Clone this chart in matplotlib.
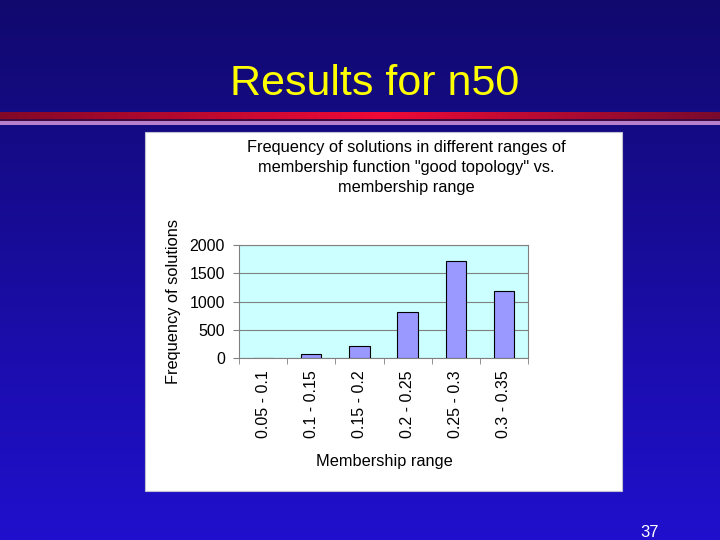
import numpy as np
import matplotlib
matplotlib.use("Agg")
import matplotlib.pyplot as plt
from matplotlib.patches import Rectangle

# dados
faixas = ["0.05 - 0.1", "0.1 - 0.15", "0.15 - 0.2", "0.2 - 0.25", "0.25 - 0.3", "0.3 - 0.35"]
frequencia = [0, 70, 205, 810, 1720, 1190]
marcas_y = [0, 500, 1000, 1500, 2000]

titulo_slide = "Results for n50"
titulo_grafico = ('Frequency of solutions in different ranges of\n'
                  'membership function "good topology" vs.\n'
                  'membership range')
numero_pagina = "37"

plt.rcParams["font.family"] = ["Liberation Sans", "DejaVu Sans"]
tam = 11.5

fig = plt.figure(figsize=(7.2, 5.4), dpi=100)

# fundo do slide (coordenadas em pixels)
bg = fig.add_axes([0, 0, 1, 1])
bg.axis("off")

t = np.linspace(0, 1, 256)[:, None, None]
topo = np.array([17, 9, 110]) / 255
base = np.array([32, 16, 205]) / 255
fundo = topo + (base - topo) * t
bg.imshow(fundo, extent=(0, 720, 540, 0), aspect="auto", interpolation="bilinear")

# faixa vermelha debaixo do titulo
xs = np.linspace(0, 720, 512)
verm = np.stack([np.interp(xs, [0, 380, 720], [130, 240, 120]),
                 np.interp(xs, [0, 380, 720], [8, 10, 10]),
                 np.interp(xs, [0, 380, 720], [40, 55, 45])], axis=-1) / 255
bg.imshow(verm[None, :, :], extent=(0, 720, 119, 112), aspect="auto", interpolation="bilinear")
bg.add_patch(Rectangle((0, 119), 720, 2, color=(0.25, 0.04, 0.25), lw=0))
bg.add_patch(Rectangle((0, 121), 720, 4, color=(0.72, 0.5, 0.8), lw=0))

# caixa branca do grafico
bg.add_patch(Rectangle((145, 132), 477, 359, facecolor="white", edgecolor="#c0c0d0", lw=0.8))

bg.text(375, 95, titulo_slide, color="#ffff00", fontsize=31, ha="center", va="baseline")
bg.text(406, 167.5, titulo_grafico, color="black", fontsize=11.8, ha="center", va="center",
        linespacing=1.45)
bg.text(640, 537, numero_pagina, color="white", fontsize=12, ha="left", va="baseline")

bg.set_xlim(0, 720)
bg.set_ylim(540, 0)

# grafico de barras
ax = fig.add_axes([239 / 720, (540 - 358) / 540, (528 - 239) / 720, (358 - 245) / 540])
ax.set_facecolor("#ccffff")
ax.bar(range(len(faixas)), frequencia, width=0.42, color="#9999ff",
       edgecolor="black", linewidth=0.8, zorder=3)
ax.set_xlim(-0.5, len(faixas) - 0.5)
ax.set_ylim(0, 2000)
ax.set_yticks(marcas_y)
ax.yaxis.grid(True, color="#808080", linewidth=0.8)
ax.set_axisbelow(True)
for s in ax.spines.values():
    s.set_color("#808080")

ax.set_xticks(range(len(faixas)))
ax.set_xticklabels(faixas, rotation=90, fontsize=tam)
ax.set_xticks(np.arange(-0.5, len(faixas), 1), minor=True)
ax.tick_params(axis="x", which="major", length=0, pad=9)
ax.tick_params(axis="x", which="minor", length=4, color="#808080")
ax.tick_params(axis="y", length=4, color="#808080", labelsize=tam, pad=6)

ax.set_ylabel("Frequency of solutions", fontsize=11.8)
ax.yaxis.label.set_va("center")
ax.yaxis.set_label_coords(-0.228, 0.5)
ax.set_xlabel("Membership range", fontsize=11.8)
ax.xaxis.label.set_va("center")
ax.xaxis.set_label_coords(0.502, -0.92)

fig.savefig("out.png", dpi=100)
